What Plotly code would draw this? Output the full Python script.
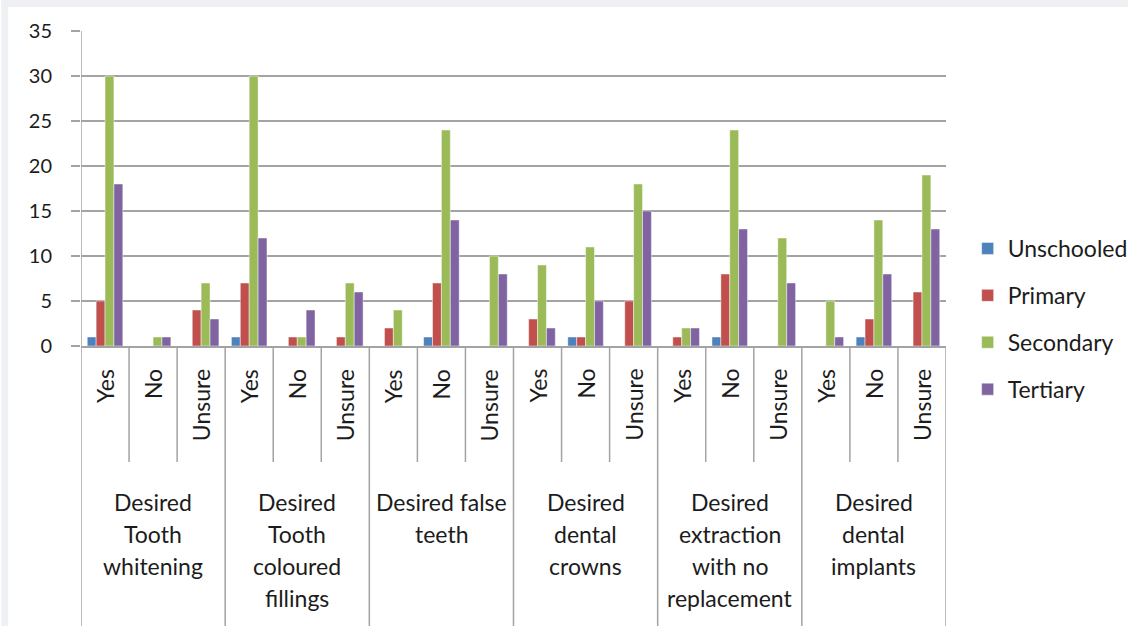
import plotly.graph_objects as go

# ---- data ----
groups = [
    "Desired\nTooth\nwhitening",
    "Desired\nTooth\ncoloured\nfillings",
    "Desired false\nteeth",
    "Desired\ndental\ncrowns",
    "Desired\nextraction\nwith no\nreplacement",
    "Desired\ndental\nimplants",
]
answers = ["Yes", "No", "Unsure"]
series_names = ["Unschooled", "Primary", "Secondary", "Tertiary"]

unschooled = [1, 0, 0, 1, 0, 0, 0, 1, 0, 0, 1, 0, 0, 1, 0, 0, 1, 0]
primary    = [5, 0, 4, 7, 1, 1, 2, 7, 0, 3, 1, 5, 1, 8, 0, 0, 3, 6]
secondary  = [30, 1, 7, 30, 1, 7, 4, 24, 10, 9, 11, 18, 2, 24, 12, 5, 14, 19]
tertiary   = [18, 1, 3, 12, 4, 6, 0, 14, 8, 2, 5, 15, 2, 13, 7, 1, 8, 13]

y_ticks = [0, 5, 10, 15, 20, 25, 30, 35]

# ---- styling ----
colors = ["#4F81BD", "#C0504D", "#9BBB59", "#8064A2"]
FONT = "Lato, 'Open Sans', sans-serif"
TXT = "#1c1c1c"
GRID = "#a3a3a3"

W, H = 1145, 626
ML, MR, MT, MB = 81, 185, 31, 280
PW, PH = W - ML - MR, H - MT - MB


def py(pix):  # pixel y -> paper y
    return (H - MB - pix) / PH


def px(pix):  # pixel x -> paper x
    return (pix - ML) / PW


cats = [f"{g.replace(chr(10), ' ')} | {a}" for g in groups for a in answers]

fig = go.Figure()
for name, vals, col in zip(series_names, [unschooled, primary, secondary, tertiary], colors):
    fig.add_trace(go.Bar(
        x=cats, y=vals, name=name,
        marker=dict(color=col, line=dict(color="rgba(255,255,255,0.45)", width=1)),
        legendgroup=name,
    ))

shapes = []
annotations = []
n = len(cats)
# category dividers (inner ones short, group ones full depth)
for k in range(n + 1):
    xpos = k - 0.5
    if k == 0:
        y0, y1 = 1, py(H)
    elif k % 3 == 0:
        y0, y1 = 0, py(H)
    else:
        y0, y1 = 0, py(462)
    shapes.append(dict(type="line", xref="x", yref="paper", x0=xpos, x1=xpos,
                       y0=y0, y1=y1, line=dict(color=GRID, width=1.5)))

# inner rotated labels
for i in range(n):
    annotations.append(dict(
        x=i, xref="x", y=py(367), yref="paper", text=answers[i % 3],
        textangle=-90, showarrow=False, xanchor="center", yanchor="top",
        font=dict(family=FONT, size=23, color=TXT)))

# group labels
line_y = [502, 534, 566, 598]
for gi, g in enumerate(groups):
    for li, line in enumerate(g.split("\n")):
        annotations.append(dict(
            x=gi * 3 + 1, xref="x", y=py(line_y[li]), yref="paper", text=line,
            showarrow=False, xanchor="center", yanchor="middle",
            font=dict(family=FONT, size=23, color=TXT)))

# page background strips (top and left)
shapes.append(dict(type="rect", xref="paper", yref="paper", x0=px(0), x1=px(W),
                   y0=py(7), y1=py(0), fillcolor="#eef0f3", line=dict(width=0), layer="below"))
shapes.append(dict(type="rect", xref="paper", yref="paper", x0=px(0), x1=px(7),
                   y0=py(H), y1=py(0), fillcolor="#eef0f3", line=dict(width=0), layer="below"))

fig.update_layout(
    width=W, height=H, autosize=False,
    margin=dict(l=ML, r=MR, t=MT, b=MB, pad=0),
    paper_bgcolor="white", plot_bgcolor="white",
    barmode="group", bargap=0.26, bargroupgap=0,
    font=dict(family=FONT, color=TXT),
    showlegend=True,
    legend=dict(x=px(982), xanchor="left", y=py(319), yanchor="middle",
                font=dict(family=FONT, size=23, color=TXT),
                tracegroupgap=14, bgcolor="rgba(0,0,0,0)"),
    shapes=shapes, annotations=annotations,
    xaxis=dict(showticklabels=False, showgrid=False, zeroline=False,
               showline=True, linecolor=GRID, linewidth=1.5, ticks="",
               range=[-0.5, n - 0.5]),
    yaxis=dict(range=[0, 35], tickvals=y_ticks, showgrid=True, gridcolor=GRID,
               gridwidth=1.5, zeroline=False, showline=False, ticks="outside",
               ticklen=9, tickcolor=GRID, tickwidth=1.5,
               tickfont=dict(family=FONT, size=20, color=TXT), ticklabelstandoff=15),
)

fig.write_html("out.html", config={"displayModeBar": False, "responsive": False},
               post_script="document.body.style.margin='0';document.body.style.overflow='hidden';")
